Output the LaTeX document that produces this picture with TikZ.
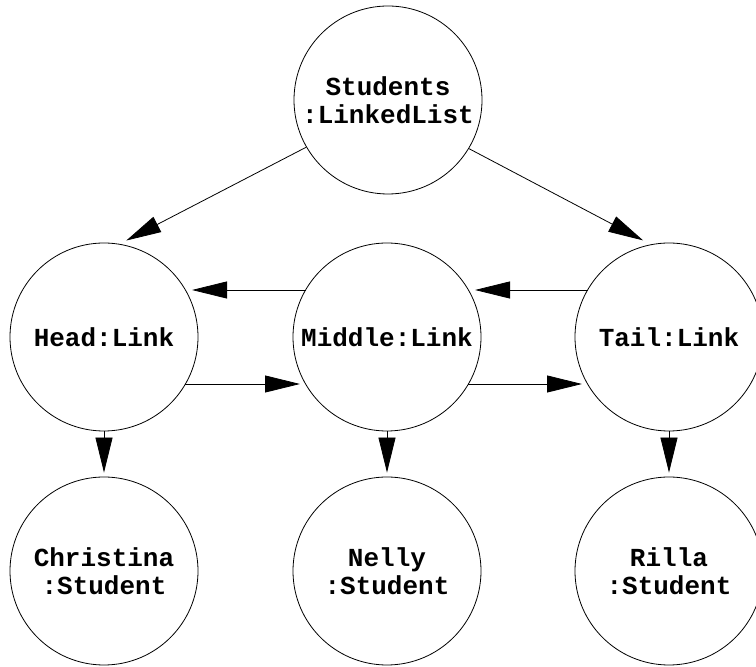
\documentclass[tikz,border=0pt]{standalone}
\usepackage{fontspec}
\setmonofont{Liberation Mono}
\usetikzlibrary{arrows.meta}
\tikzset{
  obj/.style={draw, circle, minimum size=188pt, inner sep=0pt, line width=0.8pt,
    align=center, font=\ttfamily\bfseries\fontsize{26}{28}\selectfont},
  arr/.style={line width=0.8pt, -{Triangle[length=35pt,width=17pt]}}
}
\begin{document}
\begin{tikzpicture}[x=1pt,y=1pt]
\useasboundingbox (0,0) rectangle (756,667);
\node[obj] (top) at (388,567) {Students\\:LinkedList};
\node[obj] (head) at (104,330) {Head:Link};
\node[obj] (mid) at (387,330) {Middle:Link};
\node[obj] (tail) at (669,330) {Tail:Link};
\node[obj] (chr) at (104,96) {Christina\\:Student};
\node[obj] (nel) at (387,96) {Nelly\\:Student};
\node[obj] (ril) at (669,96) {Rilla\\:Student};
% top to head / tail
\draw[arr] (top.210) -- ([shift={(77:99)}]head.center);
\draw[arr] (top.-31) -- ([shift={(105:100)}]tail.center);
% links
\draw[arr] ([shift={(-81,47)}]mid.center) -- ([shift={(88,47)}]head.center);
\draw[arr] ([shift={(81,-47)}]head.center) -- ([shift={(-87,-47)}]mid.center);
\draw[arr] ([shift={(-81,47)}]tail.center) -- ([shift={(88,47)}]mid.center);
\draw[arr] ([shift={(81,-47)}]mid.center) -- ([shift={(-87,-47)}]tail.center);
% down
\draw[arr] (head.south) -- ([yshift=4pt]chr.north);
\draw[arr] (mid.south) -- ([yshift=4pt]nel.north);
\draw[arr] (tail.south) -- ([yshift=4pt]ril.north);
\end{tikzpicture}
\end{document}
